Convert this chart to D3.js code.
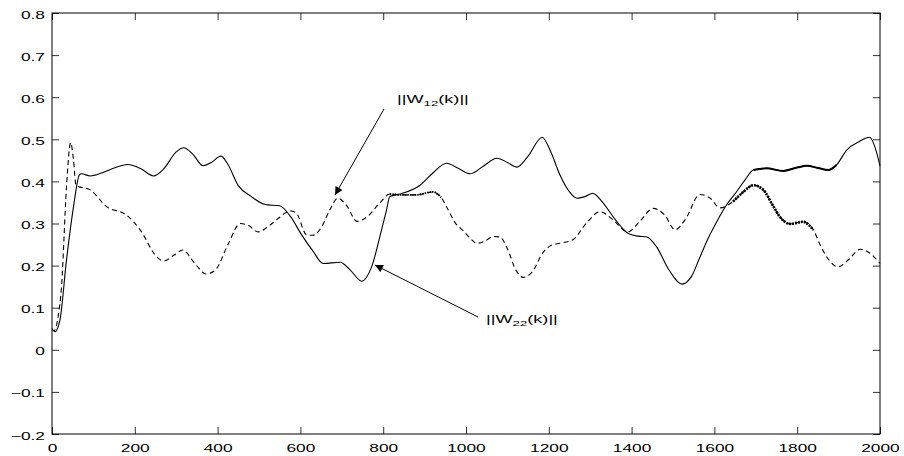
<!DOCTYPE html>
<html><head><meta charset="utf-8">
<script src="https://cdn.jsdelivr.net/npm/d3@7"></script>
<style>
html,body{margin:0;padding:0;background:#fff;}
svg{display:block;font-family:"Liberation Sans",Arial,Helvetica,sans-serif;}
</style></head>
<body><svg id="chart" width="904" height="456"></svg>
<script>
// ---- data ----
const xTicks = [0,200,400,600,800,1000,1200,1400,1600,1800,2000];
const xTickLabels = ["0","200","400","600","800","1000","1200","1400","1600","1800","2000"];
const yTicks = [-0.2,-0.1,0,0.1,0.2,0.3,0.4,0.5,0.6,0.7,0.8];
const yTickLabels = ["\u22120.2","\u22120.1","0","0.1","0.2","0.3","0.4","0.5","0.6","0.7","0.8"];

// ||W22(k)|| (solid)
const w22K = [0,7,19,35,52,66,72,92,120,150,183,215,245,270,300,318,340,365,385,408,425,450,480,515,550,575,603,630,655,696,720,748,772,796,808,816,841,889,920,953,980,1010,1040,1075,1100,1123,1150,1184,1205,1227,1250,1268,1290,1306,1330,1360,1391,1415,1437,1460,1490,1522,1545,1565,1585,1606,1630,1654,1675,1694,1726,1766,1800,1823,1850,1875,1895,1920,1950,1975,1990,2000];
const w22V = [0.05,0.043,0.07,0.213,0.34,0.415,0.418,0.413,0.42,0.432,0.44,0.43,0.413,0.43,0.47,0.48,0.465,0.437,0.445,0.46,0.44,0.39,0.365,0.345,0.342,0.318,0.273,0.235,0.205,0.208,0.19,0.163,0.197,0.285,0.332,0.364,0.37,0.391,0.42,0.443,0.432,0.418,0.435,0.455,0.445,0.434,0.46,0.505,0.47,0.415,0.375,0.36,0.365,0.372,0.35,0.31,0.277,0.27,0.268,0.245,0.19,0.156,0.175,0.22,0.265,0.305,0.345,0.376,0.405,0.427,0.431,0.425,0.433,0.437,0.432,0.427,0.439,0.475,0.495,0.505,0.475,0.437];

// ||W12(k)|| (dashed)
const w12K = [0,5,15,23,35,45,52,58,92,132,180,213,253,270,295,316,345,372,395,425,455,475,498,525,550,575,590,615,630,650,670,690,710,737,760,792,816,850,880,920,940,953,975,993,1010,1026,1045,1066,1082,1100,1120,1138,1160,1185,1210,1227,1259,1290,1324,1356,1391,1420,1452,1480,1505,1530,1565,1590,1613,1645,1670,1694,1718,1740,1758,1783,1814,1839,1855,1871,1899,1925,1952,1975,2000];
const w12V = [0.05,0.045,0.08,0.15,0.387,0.492,0.45,0.39,0.38,0.34,0.32,0.285,0.221,0.211,0.225,0.237,0.205,0.18,0.19,0.25,0.30,0.295,0.28,0.295,0.315,0.33,0.325,0.273,0.272,0.29,0.33,0.36,0.345,0.305,0.315,0.349,0.37,0.368,0.368,0.375,0.362,0.34,0.30,0.283,0.265,0.253,0.258,0.269,0.268,0.24,0.19,0.172,0.185,0.23,0.25,0.253,0.262,0.30,0.328,0.308,0.28,0.305,0.336,0.32,0.285,0.31,0.369,0.36,0.337,0.352,0.375,0.391,0.38,0.345,0.316,0.299,0.304,0.285,0.25,0.221,0.197,0.215,0.239,0.23,0.205];

const labelW12 = {main:"||W", sub:"12", tail:"(k)||"};
const labelW22 = {main:"||W", sub:"22", tail:"(k)||"};

// ---- layout ----
const M = {l:52, t:13, r:880, b:434};
const SX = 1.65; // horizontal text stretch
const svg = d3.select("#chart");
const x = d3.scaleLinear().domain([0,2000]).range([M.l, M.r]);
const y = d3.scaleLinear().domain([-0.2,0.8]).range([M.b, M.t]);

// axes
function styleAxis(g){
  g.select(".domain").remove();
  g.selectAll(".tick line").attr("stroke","#333").attr("stroke-width",1);
}
const ax = svg.append("g").attr("transform",`translate(0,${M.b})`)
  .call(d3.axisBottom(x).tickValues(xTicks).tickSizeInner(-7).tickSizeOuter(0)
    .tickFormat((d,i)=>xTickLabels[i]));
styleAxis(ax);
ax.selectAll(".tick text").attr("y",0).attr("dy",null)
  .attr("font-size","10.5px").attr("fill","#000").attr("font-family",null)
  .attr("transform",`translate(0,18) scale(${SX},1)`);

const ay = svg.append("g").attr("transform",`translate(${M.l},0)`)
  .call(d3.axisLeft(y).tickValues(yTicks).tickSizeInner(-7).tickSizeOuter(0)
    .tickFormat((d,i)=>yTickLabels[i]));
styleAxis(ay);
ay.selectAll(".tick text").attr("x",0).attr("dy",null).attr("y",0)
  .attr("font-size","10.5px").attr("fill","#000").attr("font-family",null)
  .attr("transform",`translate(-7,5) scale(${SX},1)`);

const at = svg.append("g").attr("transform",`translate(0,${M.t})`)
  .call(d3.axisTop(x).tickValues(xTicks).tickSizeInner(-7).tickSizeOuter(0).tickFormat(""));
styleAxis(at);
const ar = svg.append("g").attr("transform",`translate(${M.r},0)`)
  .call(d3.axisRight(y).tickValues(yTicks).tickSizeInner(-7).tickSizeOuter(0).tickFormat(""));
styleAxis(ar);

// box
svg.append("rect").attr("x",M.l).attr("y",M.t).attr("width",M.r-M.l).attr("height",M.b-M.t)
  .attr("fill","none").attr("stroke","#000").attr("stroke-width",1);

// lines
const line = d3.line().x(d=>x(d[0])).y(d=>y(d[1])).curve(d3.curveMonotoneX);
const w22 = w22K.map((k,i)=>[k,w22V[i]]);
const w12 = w12K.map((k,i)=>[k,w12V[i]]);

svg.append("path").datum(w22).attr("d",line).attr("fill","none")
  .attr("stroke","#000").attr("stroke-width",1.1);
svg.append("path").datum(w22.filter(d=>d[0]>=1694&&d[0]<=1895)).attr("d",line).attr("fill","none")
  .attr("stroke","#000").attr("stroke-width",2);

svg.append("path").datum(w12).attr("d",line).attr("fill","none")
  .attr("stroke","#000").attr("stroke-width",1.1).attr("stroke-dasharray","5,3.5");
svg.append("path").datum(w12.filter(d=>d[0]>=1645&&d[0]<=1840)).attr("d",line).attr("fill","none")
  .attr("stroke","#000").attr("stroke-width",2.6).attr("stroke-dasharray","2,1");
svg.append("path").datum(w12.filter(d=>d[0]>=816&&d[0]<=945)).attr("d",line).attr("fill","none")
  .attr("stroke","#000").attr("stroke-width",1.8).attr("stroke-dasharray","1.5,1");

// arrows
const defs = svg.append("defs");
defs.append("marker").attr("id","ah").attr("viewBox","0 0 10 10").attr("refX",10).attr("refY",5)
  .attr("markerWidth",10).attr("markerHeight",8).attr("markerUnits","userSpaceOnUse")
  .attr("orient","auto").append("path").attr("d","M0,0L10,5L0,10z").attr("fill","#000");

function arrow(x1,y1,x2,y2){
  svg.append("line").attr("x1",x1).attr("y1",y1).attr("x2",x2).attr("y2",y2)
    .attr("stroke","#000").attr("stroke-width",1).attr("marker-end","url(#ah)");
}
arrow(384,109,335,195);
arrow(478,317,375,265);

function label(lbl,px,py){
  const g = svg.append("g").attr("transform",`translate(${px},${py}) scale(${SX},1)`);
  const t = g.append("text").attr("font-size","11px").attr("fill","#000");
  t.append("tspan").text(lbl.main);
  t.append("tspan").attr("font-size","8px").attr("dy",3).text(lbl.sub);
  t.append("tspan").attr("dy",-3).text(lbl.tail);
}
label(labelW12,397,103);
label(labelW22,486,323);
</script></body></html>
